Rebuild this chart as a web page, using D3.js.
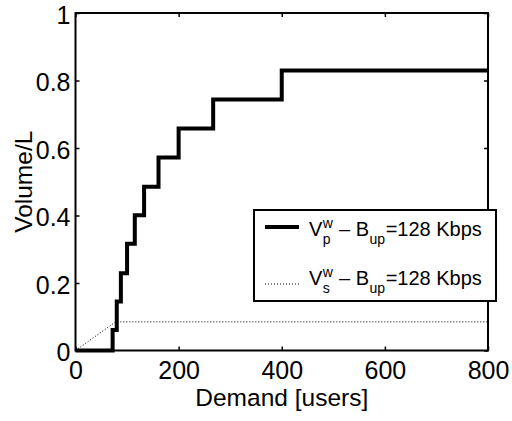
<!DOCTYPE html>
<html>
<head>
<meta charset="utf-8">
<script src="https://cdn.jsdelivr.net/npm/d3@7"></script>
<style>
  body { margin: 0; background: #fff; }
  text { font-family: "Liberation Sans", Arial, sans-serif; fill: #000; white-space: pre; }
</style>
</head>
<body>
<div id="chart"></div>
<script>
/* DATA */
// V_p^w step curve (demand in users, volume/L)
const primaryDemand = [0, 72, 80, 88, 100, 115, 133, 161, 200, 267, 400, 800];
const primaryVolume = [0, 0.061, 0.145, 0.229, 0.316, 0.401, 0.485, 0.572, 0.658, 0.744, 0.83, 0.83];
// V_s^w dotted curve
const secondaryDemand = [0, 78, 800];
const secondaryVolume = [0, 0.085, 0.085];
const xTicks = [0, 200, 400, 600, 800];
const yTicks = [0, 0.2, 0.4, 0.6, 0.8, 1];

/* CONSTANTS */
const width = 512, height = 421;
const margin = { top: 13, right: 24, bottom: 70.5, left: 75.5 };

const svg = d3.select("#chart").append("svg")
  .attr("width", width)
  .attr("height", height);

const xScale = d3.scaleLinear().domain([0, 800]).range([margin.left, width - margin.right]);
const yScale = d3.scaleLinear().domain([0, 1]).range([height - margin.bottom, margin.top]);

// axes, ticks pointing inward like matlab
const tickFont = 25, labelFont = 24.5;
svg.append("g")
  .attr("transform", `translate(0,${yScale(0)})`)
  .call(d3.axisBottom(xScale).tickValues(xTicks).tickSizeInner(-4).tickSizeOuter(0).tickPadding(10.5));
svg.append("g")
  .attr("transform", `translate(0,${yScale(1)})`)
  .call(d3.axisTop(xScale).tickValues(xTicks).tickSizeInner(-4).tickSizeOuter(0).tickFormat(""));
const yAxisGroup = svg.append("g")
  .attr("transform", `translate(${xScale(0)},0)`)
  .call(d3.axisLeft(yScale).tickValues(yTicks).tickSizeInner(-4).tickSizeOuter(0).tickPadding(5)
    .tickFormat(d => d === 1 ? "1" : d === 0 ? "0" : d3.format(".1f")(d)));
yAxisGroup.selectAll(".tick text").attr("dy", "0.4em");
svg.append("g")
  .attr("transform", `translate(${xScale(800)},0)`)
  .call(d3.axisRight(yScale).tickValues(yTicks).tickSizeInner(-4).tickSizeOuter(0).tickFormat(""));

svg.selectAll(".domain").remove();
svg.selectAll(".tick line").attr("stroke", "#000").attr("stroke-width", 1.5);
svg.selectAll(".tick text")
  .style("font-family", '"Liberation Sans", Arial, sans-serif')
  .style("font-size", tickFont + "px")
  .attr("fill", "#000");

// lines
const primaryLine = d3.line()
  .x((d, i) => xScale(primaryDemand[i]))
  .y(d => yScale(d))
  .curve(d3.curveStepAfter);

const secondaryLine = d3.line()
  .x((d, i) => xScale(secondaryDemand[i]))
  .y(d => yScale(d));

svg.append("path")
  .attr("d", secondaryLine(secondaryVolume))
  .attr("fill", "none")
  .attr("stroke", "#000")
  .attr("stroke-width", 1)
  .attr("stroke-dasharray", "1,2");

svg.append("path")
  .attr("d", primaryLine(primaryVolume))
  .attr("fill", "none")
  .attr("stroke", "#000")
  .attr("stroke-width", 4);

// frame
svg.append("rect")
  .attr("x", xScale(0))
  .attr("y", yScale(1))
  .attr("width", xScale(800) - xScale(0))
  .attr("height", yScale(0) - yScale(1))
  .attr("fill", "none")
  .attr("stroke", "#000")
  .attr("stroke-width", 2);

// axis titles
svg.append("text")
  .attr("x", (xScale(0) + xScale(800)) / 2)
  .attr("y", 406)
  .attr("text-anchor", "middle")
  .style("font-size", labelFont + "px")
  .text("Demand [users]");

svg.append("text")
  .attr("transform", `translate(32,${(yScale(0) + yScale(1)) / 2}) rotate(-90)`)
  .attr("text-anchor", "middle")
  .style("font-size", labelFont + "px")
  .text("Volume/L");

// legend
const legend = svg.append("g");
legend.append("rect")
  .attr("x", 254).attr("y", 210)
  .attr("width", 242).attr("height", 91)
  .attr("fill", "#fff")
  .attr("stroke", "#000")
  .attr("stroke-width", 2);

const entries = [
  { sub: "p", width: 4, dash: null, lineY: 227, base: 236 },
  { sub: "s", width: 1, dash: "1,2", lineY: 284, base: 285 }
];

function piece(g, str, x, y, size) {
  const t = g.append("text").attr("x", x).attr("y", y).style("font-size", size + "px").text(str);
  return t.node().getComputedTextLength();
}

entries.forEach(e => {
  legend.append("line")
    .attr("x1", 265).attr("x2", 299)
    .attr("y1", e.lineY).attr("y2", e.lineY)
    .attr("stroke", "#000")
    .attr("stroke-width", e.width)
    .attr("stroke-dasharray", e.dash);

  let x = 309;
  x += piece(legend, "V", x, e.base, 20) + 0.5;
  const w1 = piece(legend, "w", x, e.base - 8, 14);
  const w2 = piece(legend, e.sub, x, e.base + 8, 14);
  x += Math.max(w1, w2) + 0.5;
  x += piece(legend, " \u2013 B", x, e.base, 20) + 0.5;
  x += piece(legend, "up", x, e.base + 8, 14) + 0.5;
  piece(legend, "=128 Kbps", x, e.base, 20);
});
</script>
</body>
</html>
